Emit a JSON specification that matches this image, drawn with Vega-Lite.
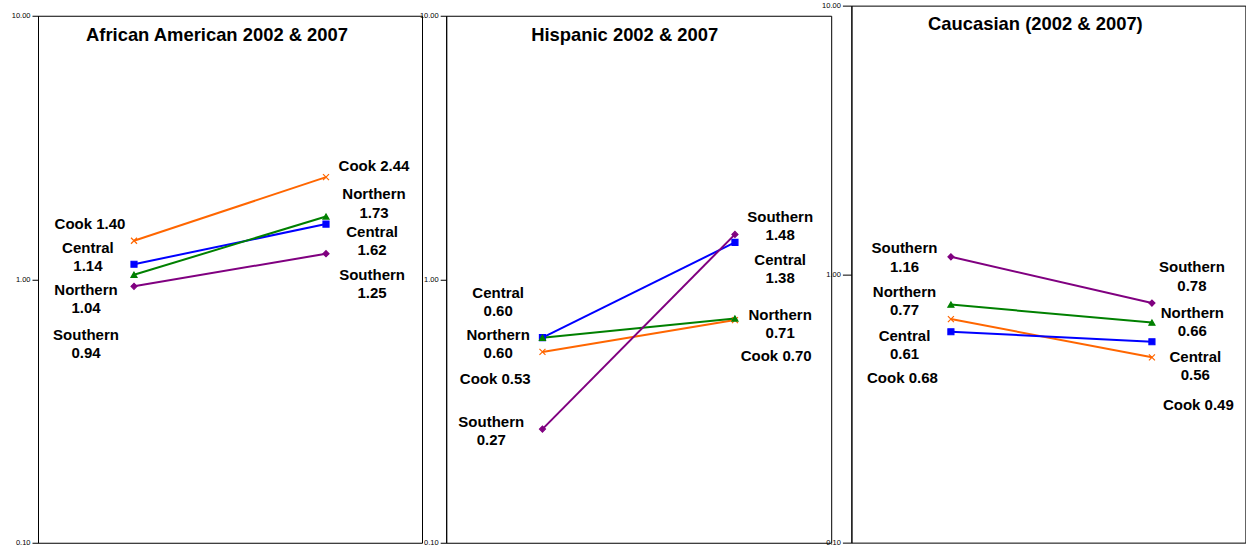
{
  "$schema": "https://vega.github.io/schema/vega-lite/v6.json",
  "padding": {"left": 10, "top": 0.25, "right": 0, "bottom": -10},
  "background": "white",
  "spacing": -11.8,
  "center": true,
  "datasets": {
    "pts": [
      {"p": "AA", "s": "Cook", "x": 1, "v": 1.40}, {"p": "AA", "s": "Cook", "x": 2, "v": 2.44},
      {"p": "AA", "s": "Central", "x": 1, "v": 1.14}, {"p": "AA", "s": "Central", "x": 2, "v": 1.62},
      {"p": "AA", "s": "Northern", "x": 1, "v": 1.04}, {"p": "AA", "s": "Northern", "x": 2, "v": 1.73},
      {"p": "AA", "s": "Southern", "x": 1, "v": 0.94}, {"p": "AA", "s": "Southern", "x": 2, "v": 1.25},
      {"p": "HI", "s": "Cook", "x": 1, "v": 0.53}, {"p": "HI", "s": "Cook", "x": 2, "v": 0.70},
      {"p": "HI", "s": "Central", "x": 1, "v": 0.60}, {"p": "HI", "s": "Central", "x": 2, "v": 1.38},
      {"p": "HI", "s": "Northern", "x": 1, "v": 0.60}, {"p": "HI", "s": "Northern", "x": 2, "v": 0.71},
      {"p": "HI", "s": "Southern", "x": 1, "v": 0.27}, {"p": "HI", "s": "Southern", "x": 2, "v": 1.48},
      {"p": "CA", "s": "Cook", "x": 1, "v": 0.68}, {"p": "CA", "s": "Cook", "x": 2, "v": 0.49},
      {"p": "CA", "s": "Central", "x": 1, "v": 0.61}, {"p": "CA", "s": "Central", "x": 2, "v": 0.56},
      {"p": "CA", "s": "Northern", "x": 1, "v": 0.77}, {"p": "CA", "s": "Northern", "x": 2, "v": 0.66},
      {"p": "CA", "s": "Southern", "x": 1, "v": 1.16}, {"p": "CA", "s": "Southern", "x": 2, "v": 0.78}
    ],
    "lbl": [
      {"p": "AA", "m": 1, "x": 0.771, "v": 1.615, "t": "Cook 1.40"},
      {"p": "AA", "m": 2, "x": 0.760, "v": 1.217, "t": "Central\n1.14"},
      {"p": "AA", "m": 2, "x": 0.75, "v": 0.844, "t": "Northern\n1.04"},
      {"p": "AA", "m": 2, "x": 0.75, "v": 0.567, "t": "Southern\n0.94"},
      {"p": "AA", "m": 1, "x": 2.25, "v": 2.679, "t": "Cook 2.44"},
      {"p": "AA", "m": 2, "x": 2.25, "v": 1.941, "t": "Northern\n1.73"},
      {"p": "AA", "m": 2, "x": 2.24, "v": 1.393, "t": "Central\n1.62"},
      {"p": "AA", "m": 2, "x": 2.24, "v": 0.957, "t": "Southern\n1.25"},
      {"p": "HI", "m": 2, "x": 0.770, "v": 0.818, "t": "Central\n0.60"},
      {"p": "HI", "m": 2, "x": 0.770, "v": 0.567, "t": "Northern\n0.60"},
      {"p": "HI", "m": 1, "x": 0.755, "v": 0.418, "t": "Cook 0.53"},
      {"p": "HI", "m": 2, "x": 0.734, "v": 0.2656, "t": "Southern\n0.27"},
      {"p": "HI", "m": 2, "x": 2.235, "v": 1.594, "t": "Southern\n1.48"},
      {"p": "HI", "m": 2, "x": 2.235, "v": 1.091, "t": "Central\n1.38"},
      {"p": "HI", "m": 2, "x": 2.235, "v": 0.675, "t": "Northern\n0.71"},
      {"p": "HI", "m": 1, "x": 2.214, "v": 0.511, "t": "Cook 0.70"},
      {"p": "CA", "m": 2, "x": 0.769, "v": 1.152, "t": "Southern\n1.16"},
      {"p": "CA", "m": 2, "x": 0.769, "v": 0.793, "t": "Northern\n0.77"},
      {"p": "CA", "m": 2, "x": 0.769, "v": 0.546, "t": "Central\n0.61"},
      {"p": "CA", "m": 1, "x": 0.759, "v": 0.412, "t": "Cook 0.68"},
      {"p": "CA", "m": 2, "x": 2.199, "v": 0.979, "t": "Southern\n0.78"},
      {"p": "CA", "m": 2, "x": 2.201, "v": 0.663, "t": "Northern\n0.66"},
      {"p": "CA", "m": 2, "x": 2.216, "v": 0.456, "t": "Central\n0.56"},
      {"p": "CA", "m": 1, "x": 2.231, "v": 0.3266, "t": "Cook 0.49"}
    ]
  },
  "resolve": {"scale": {"x": "independent", "y": "independent"}},
  "hconcat": [
    {
      "width": 384, "height": 527,
      "title": {"text": "African American 2002 & 2007", "offset": -32.75, "dx": -13},
      "encoding": {
        "x": {"field": "x", "type": "quantitative", "scale": {"domain": [0.5, 2.5], "nice": false, "zero": false}, "axis": null},
        "y": {"field": "v", "type": "quantitative", "scale": {"type": "log", "domain": [0.1, 10], "nice": false},
          "axis": {"values": [0.1, 1, 10], "format": ".2f", "title": null}}
      },
      "layer": [
        {"data": {"name": "pts"}, "transform": [{"filter": "datum.p === 'AA'"}],
          "mark": {"type": "line", "strokeWidth": 2},
          "encoding": {"color": {"field": "s", "type": "nominal", "scale": {"domain": ["Cook", "Central", "Northern", "Southern"], "range": ["#FF6600", "#0000FF", "#008000", "#800080"]}, "legend": null}}},
        {"data": {"name": "pts"}, "transform": [{"filter": "datum.p === 'AA'"}],
          "mark": {"type": "point", "filled": true, "opacity": 1, "strokeWidth": 1.2},
          "encoding": {
            "color": {"field": "s", "type": "nominal", "scale": {"domain": ["Cook", "Central", "Northern", "Southern"], "range": ["#FF6600", "#0000FF", "#008000", "#800080"]}, "legend": null},
            "stroke": {"field": "s", "type": "nominal", "scale": {"domain": ["Cook", "Central", "Northern", "Southern"], "range": ["#FF6600", "#0000FF", "#008000", "#800080"]}, "legend": null},
            "shape": {"field": "s", "type": "nominal", "scale": {"domain": ["Cook", "Central", "Northern", "Southern"], "range": ["M-1,-1L1,1M-1,1L1,-1", "square", "triangle-up", "diamond"]}, "legend": null},
            "size": {"field": "s", "type": "ordinal", "scale": {"domain": ["Cook", "Central", "Northern", "Southern"], "range": [36, 36, 20, 12]}, "legend": null}
          }},
        {"data": {"name": "lbl"}, "transform": [{"filter": "datum.p === 'AA' && datum.m === 1"}],
          "mark": {"type": "text", "font": "Liberation Sans", "fontSize": 15, "fontWeight": "bold", "align": "center", "baseline": "middle", "color": "black"},
          "encoding": {"text": {"field": "t"}}},
        {"data": {"name": "lbl"}, "transform": [{"filter": "datum.p === 'AA' && datum.m === 2"}],
          "mark": {"type": "text", "font": "Liberation Sans", "fontSize": 15, "fontWeight": "bold", "align": "center", "baseline": "middle", "lineBreak": "\n", "lineHeight": 18.3, "dy": -9.15, "color": "black"},
          "encoding": {"text": {"field": "t"}}}
      ]
    },
    {
      "width": 385, "height": 527,
      "title": {"text": "Hispanic 2002 & 2007", "offset": -32.75, "dx": -14},
      "encoding": {
        "x": {"field": "x", "type": "quantitative", "scale": {"domain": [0.5, 2.5], "nice": false, "zero": false}, "axis": null},
        "y": {"field": "v", "type": "quantitative", "scale": {"type": "log", "domain": [0.1, 10], "nice": false},
          "axis": {"values": [0.1, 1, 10], "format": ".2f", "title": ".", "titleColor": "white", "titleFontSize": 2, "titleAngle": 0, "titleX": -34, "titleY": 100, "titleBaseline": "middle", "titleAlign": "left"}}
      },
      "layer": [
        {"data": {"name": "pts"}, "transform": [{"filter": "datum.p === 'HI'"}],
          "mark": {"type": "line", "strokeWidth": 2},
          "encoding": {"color": {"field": "s", "type": "nominal", "scale": {"domain": ["Cook", "Central", "Northern", "Southern"], "range": ["#FF6600", "#0000FF", "#008000", "#800080"]}, "legend": null}}},
        {"data": {"name": "pts"}, "transform": [{"filter": "datum.p === 'HI'"}],
          "mark": {"type": "point", "filled": true, "opacity": 1, "strokeWidth": 1.2},
          "encoding": {
            "color": {"field": "s", "type": "nominal", "scale": {"domain": ["Cook", "Central", "Northern", "Southern"], "range": ["#FF6600", "#0000FF", "#008000", "#800080"]}, "legend": null},
            "stroke": {"field": "s", "type": "nominal", "scale": {"domain": ["Cook", "Central", "Northern", "Southern"], "range": ["#FF6600", "#0000FF", "#008000", "#800080"]}, "legend": null},
            "shape": {"field": "s", "type": "nominal", "scale": {"domain": ["Cook", "Central", "Northern", "Southern"], "range": ["M-1,-1L1,1M-1,1L1,-1", "square", "triangle-up", "diamond"]}, "legend": null},
            "size": {"field": "s", "type": "ordinal", "scale": {"domain": ["Cook", "Central", "Northern", "Southern"], "range": [36, 36, 20, 12]}, "legend": null}
          }},
        {"data": {"name": "lbl"}, "transform": [{"filter": "datum.p === 'HI' && datum.m === 1"}],
          "mark": {"type": "text", "font": "Liberation Sans", "fontSize": 15, "fontWeight": "bold", "align": "center", "baseline": "middle", "color": "black"},
          "encoding": {"text": {"field": "t"}}},
        {"data": {"name": "lbl"}, "transform": [{"filter": "datum.p === 'HI' && datum.m === 2"}],
          "mark": {"type": "text", "font": "Liberation Sans", "fontSize": 15, "fontWeight": "bold", "align": "center", "baseline": "middle", "lineBreak": "\n", "lineHeight": 18.3, "dy": -9.15, "color": "black"},
          "encoding": {"text": {"field": "t"}}}
      ]
    },
    {
      "width": 394, "height": 537,
      "title": {"text": "Caucasian (2002 & 2007)", "offset": -32, "dx": -13},
      "encoding": {
        "x": {"field": "x", "type": "quantitative", "scale": {"domain": [0.505, 2.465], "nice": false, "zero": false},
          "axis": {"orient": "bottom", "domain": false, "ticks": false, "labels": false, "grid": false, "title": ".", "titleColor": "white", "titleFontSize": 2, "titleAngle": 0, "titleX": 100, "titleY": 11.75, "titleBaseline": "top"}},
        "y": {"field": "v", "type": "quantitative", "scale": {"type": "log", "domain": [0.1, 10], "nice": false},
          "axis": {"values": [0.1, 1, 10], "format": ".2f", "title": null, "tickSize": 9}}
      },
      "layer": [
        {"data": {"name": "pts"}, "transform": [{"filter": "datum.p === 'CA'"}],
          "mark": {"type": "line", "strokeWidth": 2},
          "encoding": {"color": {"field": "s", "type": "nominal", "scale": {"domain": ["Cook", "Central", "Northern", "Southern"], "range": ["#FF6600", "#0000FF", "#008000", "#800080"]}, "legend": null}}},
        {"data": {"name": "pts"}, "transform": [{"filter": "datum.p === 'CA'"}],
          "mark": {"type": "point", "filled": true, "opacity": 1, "strokeWidth": 1.2},
          "encoding": {
            "color": {"field": "s", "type": "nominal", "scale": {"domain": ["Cook", "Central", "Northern", "Southern"], "range": ["#FF6600", "#0000FF", "#008000", "#800080"]}, "legend": null},
            "stroke": {"field": "s", "type": "nominal", "scale": {"domain": ["Cook", "Central", "Northern", "Southern"], "range": ["#FF6600", "#0000FF", "#008000", "#800080"]}, "legend": null},
            "shape": {"field": "s", "type": "nominal", "scale": {"domain": ["Cook", "Central", "Northern", "Southern"], "range": ["M-1,-1L1,1M-1,1L1,-1", "square", "triangle-up", "diamond"]}, "legend": null},
            "size": {"field": "s", "type": "ordinal", "scale": {"domain": ["Cook", "Central", "Northern", "Southern"], "range": [36, 36, 20, 12]}, "legend": null}
          }},
        {"data": {"name": "lbl"}, "transform": [{"filter": "datum.p === 'CA' && datum.m === 1"}],
          "mark": {"type": "text", "font": "Liberation Sans", "fontSize": 15, "fontWeight": "bold", "align": "center", "baseline": "middle", "color": "black"},
          "encoding": {"text": {"field": "t"}}},
        {"data": {"name": "lbl"}, "transform": [{"filter": "datum.p === 'CA' && datum.m === 2"}],
          "mark": {"type": "text", "font": "Liberation Sans", "fontSize": 15, "fontWeight": "bold", "align": "center", "baseline": "middle", "lineBreak": "\n", "lineHeight": 18.3, "dy": -9.15, "color": "black"},
          "encoding": {"text": {"field": "t"}}}
      ]
    }
  ],
  "config": {
    "view": {"stroke": "black", "strokeWidth": 1},
    "title": {"font": "Liberation Sans", "fontSize": 18.4, "fontWeight": "bold", "color": "black", "anchor": "middle", "baseline": "middle"},
    "axisY": {"labelFont": "Liberation Sans", "labelFontSize": 7.5, "labelColor": "black", "tickColor": "black", "tickSize": 6, "labelPadding": 2, "domainColor": "black", "grid": false, "labelOverlap": false, "labelFlush": false}
  }
}
